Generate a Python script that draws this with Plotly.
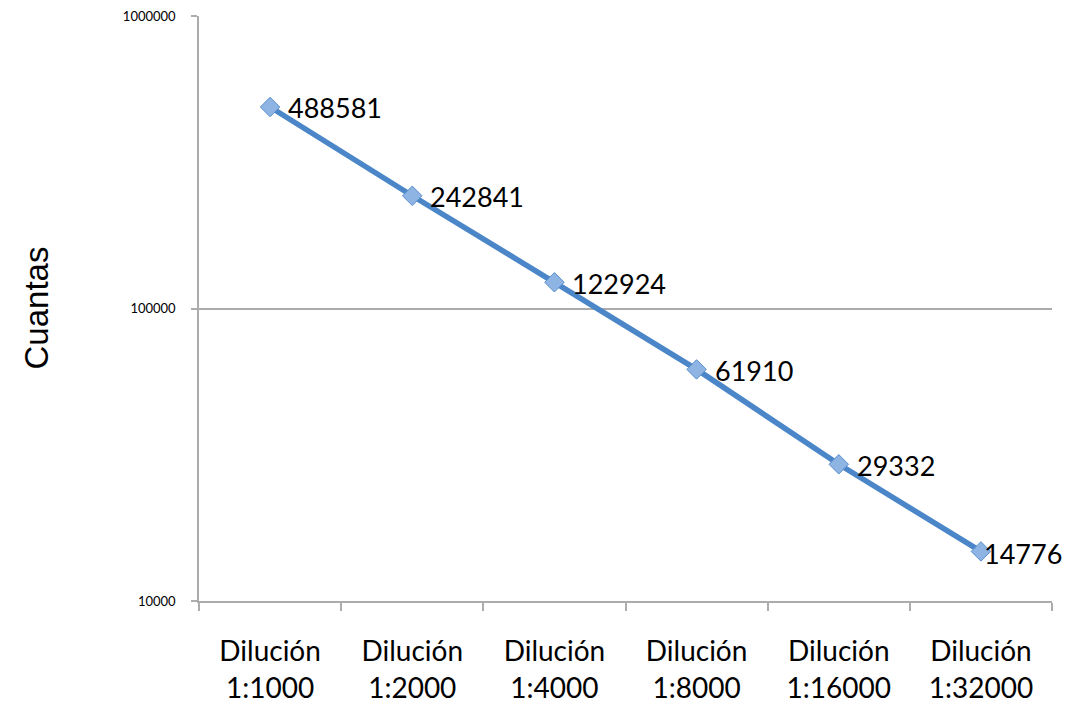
import math
import plotly.graph_objects as go

# Serial dilution counts
categories = ["Dilución<br>1:1000", "Dilución<br>1:2000", "Dilución<br>1:4000",
              "Dilución<br>1:8000", "Dilución<br>1:16000", "Dilución<br>1:32000"]
counts = [488581, 242841, 122924, 61910, 29332, 14776]
y_tick_values = [10000, 100000, 1000000]
y_tick_labels = ["10000", "100000", "1000000"]

LABEL_FONT = "Lato, Open Sans, sans-serif"
AXIS_GRAY = "#ACACAC"

fig = go.Figure()
fig.add_trace(go.Scatter(
    x=categories,
    y=counts,
    mode="lines+markers",
    line=dict(color="#4A86C8", width=5.5),
    marker=dict(symbol="diamond", size=15, color="#8DB4E3",
                line=dict(color="#5A8FCC", width=1)),
    cliponaxis=False,
    showlegend=False,
))

# Value labels to the right of each point (log axis: annotation y in log10 units);
# the last label is pulled in so it stays inside the page
for i, (cat, val) in enumerate(zip(categories, counts)):
    last = i == len(counts) - 1
    fig.add_annotation(
        x=cat, y=math.log10(val), yref="y", xref="x",
        text=str(val), showarrow=False,
        xanchor="left", yanchor="middle",
        xshift=1 if last else 16, yshift=-2 if last else -1,
        font=dict(family=LABEL_FONT, size=27, color="#000000"),
    )

# Y-axis title
fig.add_annotation(
    x=0, y=0.5, xref="paper", yref="paper",
    text="Cuantas", showarrow=False, textangle=-90,
    xanchor="center", yanchor="middle", xshift=-163,
    font=dict(family="Liberation Sans, Arial, sans-serif", size=33, color="#000000"),
)

fig.update_layout(
    width=1071, height=704,
    margin=dict(l=199, r=19, t=16, b=103),
    paper_bgcolor="white",
    plot_bgcolor="white",
    xaxis=dict(
        type="category",
        range=[-0.5, 5.5],
        automargin=False,
        tickson="boundaries",
        ticks="outside",
        ticklen=8,
        tickwidth=1.5,
        tickcolor=AXIS_GRAY,
        showline=True,
        linecolor=AXIS_GRAY,
        linewidth=1.5,
        showgrid=False,
        ticklabelstandoff=25,
        tickfont=dict(family=LABEL_FONT, size=28, color="#000000"),
    ),
    yaxis=dict(
        type="log",
        range=[4, 6],
        automargin=False,
        tickvals=y_tick_values,
        ticktext=y_tick_labels,
        ticks="outside",
        ticklen=6,
        tickwidth=1.5,
        tickcolor=AXIS_GRAY,
        showline=True,
        linecolor=AXIS_GRAY,
        linewidth=1.5,
        showgrid=True,
        gridcolor=AXIS_GRAY,
        gridwidth=1.5,
        zeroline=False,
        ticklabelstandoff=13,
        tickfont=dict(family=LABEL_FONT, size=13, color="#000000"),
    ),
)

fig.write_html("out.html")
